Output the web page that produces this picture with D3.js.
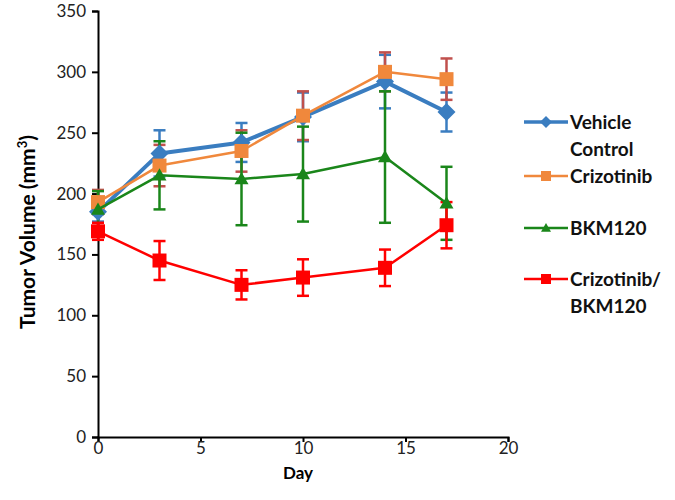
<!DOCTYPE html>
<html><head><meta charset="utf-8">
<script src="https://cdn.jsdelivr.net/npm/d3@7"></script>
<style>body{margin:0;background:#fff}</style></head>
<body><svg id="c" width="675" height="500"></svg>
<script>
const days = [0, 3, 7, 10, 14, 17];
const seriesNames = ["Vehicle Control", "Crizotinib", "BKM120", "Crizotinib/BKM120"];
const vehicle = [185, 233, 242, 263, 292, 267];
const vehicleErr = [8, 19, 16, 20, 22, 16];
const crizotinib = [193, 223, 235, 264, 300, 294];
const crizotinibErr = [10, 17, 17, 20, 16, 17];
const bkm120 = [187, 215, 212, 216, 230, 192];
const bkm120Err = [15, 28, 38, 39, 54, 30];
const combo = [169, 145, 125, 131, 139, 174];
const comboErr = [7, 16, 12, 15, 15, 19];
const yTicks = [0, 50, 100, 150, 200, 250, 300, 350];
const xTicks = [0, 5, 10, 15, 20];

const svg = d3.select("#c");
const x = d3.scaleLinear().domain([0, 20]).range([98, 508]);
const y = d3.scaleLinear().domain([0, 350]).range([437, 11]);
const font = "Lato, 'Open Sans', sans-serif";

const series = [
  {name: seriesNames[0], vals: vehicle, err: vehicleErr, color: "#3a7dc0", errColor: "#3a7dc0", lw: 4, shape: "diamond", size: 9},
  {name: seriesNames[1], vals: crizotinib, err: crizotinibErr, color: "#f0883c", errColor: "#c0504d", lw: 2.5, shape: "square", size: 7},
  {name: seriesNames[2], vals: bkm120, err: bkm120Err, color: "#1a861a", errColor: "#1a861a", lw: 2.5, shape: "triangle", size: 7},
  {name: seriesNames[3], vals: combo, err: comboErr, color: "#ff0000", errColor: "#ff0000", lw: 2.5, shape: "square", size: 7}
];

function marker(g, shape, cx, cy, s, color) {
  if (shape === "diamond") {
    g.append("path").attr("d", `M${cx},${cy-s}L${cx+s},${cy}L${cx},${cy+s}L${cx-s},${cy}Z`).attr("fill", color);
  } else if (shape === "square") {
    g.append("rect").attr("x", cx-s).attr("y", cy-s).attr("width", 2*s).attr("height", 2*s).attr("fill", color);
  } else {
    g.append("path").attr("d", `M${cx},${cy-s}L${cx+s},${cy+s*0.75}L${cx-s},${cy+s*0.75}Z`).attr("fill", color);
  }
}

// axes
const yAxis = d3.axisLeft(y).tickValues(yTicks).tickSize(6).tickPadding(6);
const gy = svg.append("g").attr("transform", "translate(98,0)").call(yAxis);
gy.select(".domain").attr("stroke", "#000").attr("stroke-width", 2);
gy.selectAll(".tick line").attr("stroke", "#000").attr("stroke-width", 2);
gy.selectAll(".tick text").attr("font-family", font).attr("font-size", 17).attr("fill", "#222");

const xAxis = d3.axisBottom(x).tickValues(xTicks).tickSize(5).tickPadding(0);
const gx = svg.append("g").attr("transform", "translate(0,437)").call(xAxis);
gx.select(".domain").attr("stroke", "#000").attr("stroke-width", 2);
gx.selectAll(".tick line").attr("stroke", "#000").attr("stroke-width", 2);
gx.selectAll(".tick text").attr("font-family", font).attr("font-size", 17).attr("fill", "#222");

svg.append("text").attr("x", 298).attr("y", 479).attr("text-anchor", "middle")
  .attr("font-family", font).attr("font-weight", "bold").attr("font-size", 17).text("Day");
const yt = svg.append("text").attr("transform", "translate(35,232) rotate(-90)").attr("text-anchor", "middle")
  .attr("font-family", font).attr("font-weight", "bold").attr("font-size", 21);
yt.append("tspan").text("Tumor Volume (mm");
yt.append("tspan").attr("dy", -8).attr("font-size", 13).text("3");
yt.append("tspan").attr("dy", 8).text(")");

// error bars
series.forEach(s => {
  const g = svg.append("g");
  days.forEach((d, i) => {
    const cx = x(d), top = y(s.vals[i] + s.err[i]), bot = y(s.vals[i] - s.err[i]);
    g.append("line").attr("x1", cx).attr("x2", cx).attr("y1", top).attr("y2", bot).attr("stroke", s.errColor).attr("stroke-width", 2.5);
    [top, bot].forEach(yy => g.append("line").attr("x1", cx-6).attr("x2", cx+6).attr("y1", yy).attr("y2", yy).attr("stroke", s.errColor).attr("stroke-width", 2.5));
  });
});

// lines and markers
const line = d3.line().x((d, i) => x(days[i])).y(d => y(d));
series.forEach(s => {
  const g = svg.append("g");
  g.append("path").attr("d", line(s.vals)).attr("fill", "none").attr("stroke", s.color).attr("stroke-width", s.lw).attr("stroke-linejoin", "round");
  days.forEach((d, i) => marker(g, s.shape, x(d), y(s.vals[i]), s.size, s.color));
});

// legend
const legY = [122, 176, 228, 279];
const legLabels = [["Vehicle", "Control"], ["Crizotinib"], ["BKM120"], ["Crizotinib/", "BKM120"]];
series.forEach((s, k) => {
  const g = svg.append("g");
  const ly = legY[k];
  g.append("line").attr("x1", 524).attr("x2", 568).attr("y1", ly).attr("y2", ly).attr("stroke", s.color).attr("stroke-width", s.lw === 4 ? 3.5 : 2.5);
  marker(g, s.shape, 546, ly, s.shape === "diamond" ? 6 : 5, s.color);
  const t = g.append("text").attr("font-family", font).attr("font-weight", "bold").attr("font-size", 19).attr("fill", "#111");
  legLabels[k].forEach((l, j) => t.append("tspan").attr("x", 570).attr("y", ly + 7 + j * 27).text(l));
});
</script></body></html>
